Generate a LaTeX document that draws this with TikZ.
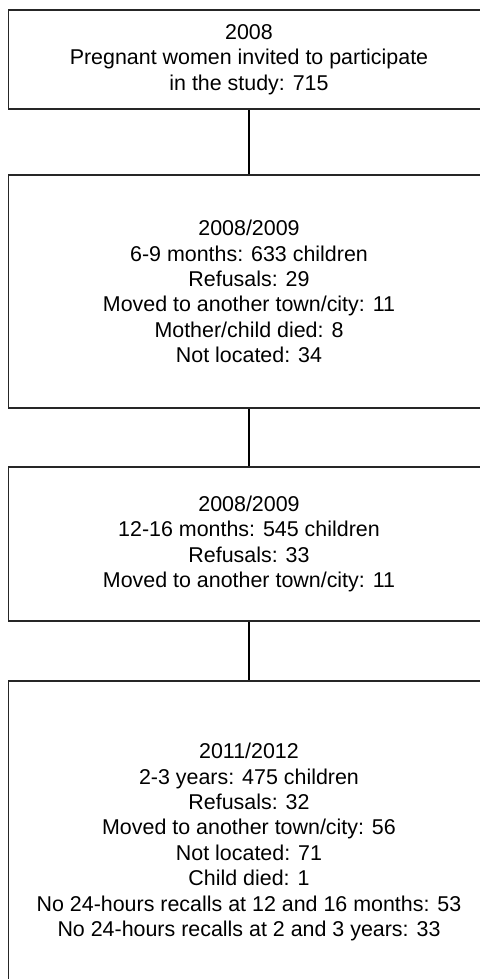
\documentclass[tikz,border=0pt]{standalone}
\usepackage{fontspec}
\setmainfont{Liberation Sans}
\usetikzlibrary{positioning}

\begin{document}
\begin{tikzpicture}[x=1bp, y=-1bp,
    stage/.style={draw=black!85, line width=1.5bp, minimum width=481bp, inner sep=0pt,
      align=center, font=\fontsize{21.5}{25.5}\selectfont},
    link/.style={black, line width=1.1bp}]
      \useasboundingbox (0,0) rectangle (480,979);
      \clip (0,0) rectangle (480,979);

      % recruitment
      \node[stage, minimum height=99bp] (invited) at (249,59.5)
        {2008\\Pregnant women invited to participate\\in the study: 715};

      % follow-ups
      \node[stage, minimum height=233bp] (month69) at (249,291.5)
        {2008/2009\\6-9 months: 633 children\\Refusals: 29\\Moved to another town/city: 11\\Mother/child died: 8\\Not located: 34};
      \node[stage, minimum height=154bp] (month1216) at (249,544)
        {2008/2009\\12-16 months: 545 children\\Refusals: 33\\Moved to another town/city: 11};
      \node[stage, minimum height=322bp] (year23) at (249,842)
        {2011/2012\\2-3 years: 475 children\\Refusals: 32\\Moved to another town/city: 56\\Not located: 71\\Child died: 1\\No 24-hours recalls at 12 and 16 months: 53\\No 24-hours recalls at 2 and 3 years: 33};

      \draw[link] (invited) -- (month69);
      \draw[link] (month69) -- (month1216);
      \draw[link] (month1216) -- (year23);
    \end{tikzpicture}
\end{document}
